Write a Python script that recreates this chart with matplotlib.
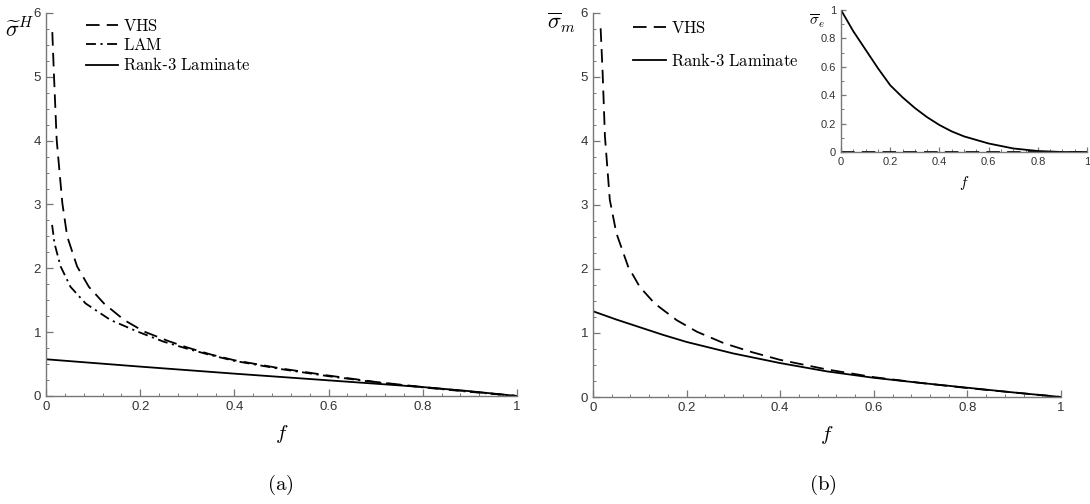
import matplotlib
matplotlib.use("Agg")
import matplotlib.pyplot as plt
from matplotlib.ticker import MultipleLocator

plt.rcParams['mathtext.fontset'] = 'cm'
plt.rcParams['font.family'] = 'Liberation Sans'

# panel (a)
f_vhs_a = [0.0134, 0.017, 0.0227, 0.0347, 0.045, 0.066, 0.091, 0.123, 0.166, 0.208,
           0.26, 0.3, 0.35, 0.4, 0.5, 0.6, 0.7, 0.8, 0.9, 1.0]
vhs_a = [5.70, 5.01, 4.01, 3.02, 2.5, 2.03, 1.71, 1.45, 1.19, 1.01,
         0.86, 0.76, 0.65, 0.56, 0.43, 0.32, 0.22, 0.14, 0.07, 0.0]
f_lam_a = [0.013, 0.018, 0.031, 0.052, 0.084, 0.137, 0.194, 0.25, 0.3, 0.35,
           0.4, 0.5, 0.6, 0.7, 0.8, 0.9, 1.0]
lam_a = [2.68, 2.39, 2.03, 1.71, 1.45, 1.19, 1.01, 0.85, 0.74, 0.64,
         0.55, 0.42, 0.31, 0.215, 0.135, 0.065, 0.0]
f_r3_a = [0.0, 0.2, 0.4, 0.6, 0.8, 0.9, 1.0]
r3_a = [0.575, 0.46, 0.35, 0.245, 0.14, 0.075, 0.0]

# panel (b)
f_vhs_b = [0.0164, 0.0207, 0.0256, 0.036, 0.05, 0.075, 0.1, 0.132, 0.179, 0.222,
           0.28, 0.34, 0.4, 0.5, 0.6, 0.7, 0.8, 0.9, 1.0]
vhs_b = [5.76, 5.06, 4.07, 3.08, 2.56, 2.04, 1.72, 1.46, 1.2, 1.02,
         0.84, 0.70, 0.58, 0.43, 0.31, 0.22, 0.14, 0.07, 0.0]
f_r3_b = [0.0, 0.05, 0.1, 0.15, 0.2, 0.3, 0.4, 0.5, 0.6, 0.7, 0.8, 0.9, 1.0]
r3_b = [1.34, 1.21, 1.09, 0.97, 0.86, 0.68, 0.53, 0.40, 0.30, 0.22, 0.145, 0.07, 0.0]

# inset of (b)
f_in_vhs = [0.0, 1.0]
in_vhs = [0.0, 0.0]
f_in_r3 = [0.0, 0.05, 0.1, 0.15, 0.2, 0.25, 0.3, 0.35, 0.4, 0.45, 0.5, 0.6,
           0.7, 0.8, 0.9, 1.0]
in_r3 = [1.0, 0.85, 0.72, 0.59, 0.47, 0.385, 0.31, 0.245, 0.19, 0.145, 0.11, 0.06,
         0.025, 0.007, 0.0, 0.0]

gray = '#777777'
lw = 1.3
vhs_dash = (7.5, 4)
lam_dash = (5.5, 2.5, 1.2, 2.5)


def style(ax, lab_size=9.5, ymin=0.25, xmin=0.04):
    for s in ['top', 'right']:
        ax.spines[s].set_visible(False)
    for s in ['left', 'bottom']:
        ax.spines[s].set_color(gray)
        ax.spines[s].set_linewidth(1.0)
    ax.tick_params(which='both', direction='in', color=gray, labelcolor='#333333',
                   labelsize=lab_size)
    ax.tick_params(which='major', length=5, width=0.9)
    ax.tick_params(which='minor', length=2.5, width=0.7)
    ax.xaxis.set_minor_locator(MultipleLocator(xmin))
    ax.yaxis.set_minor_locator(MultipleLocator(ymin))
    ax.xaxis.set_major_formatter(plt.FuncFormatter(lambda v, p: ('%g' % v)))
    ax.yaxis.set_major_formatter(plt.FuncFormatter(lambda v, p: ('%g' % v)))


fig = plt.figure(figsize=(10.9, 5.04), dpi=100)
ax1 = fig.add_axes([0.0422, 0.2143, 0.4321, 0.760])
ax2 = fig.add_axes([0.5440, 0.2123, 0.4294, 0.762])
ax3 = fig.add_axes([0.7716, 0.6984, 0.2257, 0.2817])

ax1.plot(f_vhs_a, vhs_a, color='k', lw=lw, dashes=vhs_dash, label=r'$\mathrm{VHS}$')
ax1.plot(f_lam_a, lam_a, color='k', lw=lw, dashes=lam_dash, label=r'$\mathrm{LAM}$')
ax1.plot(f_r3_a, r3_a, color='k', lw=lw, label=r'$\mathrm{Rank}$-$3\ \mathrm{Laminate}$')

ax2.plot(f_vhs_b, vhs_b, color='k', lw=lw, dashes=vhs_dash, label=r'$\mathrm{VHS}$')
ax2.plot(f_r3_b, r3_b, color='k', lw=lw, label=r'$\mathrm{Rank}$-$3\ \mathrm{Laminate}$')

ax3.plot(f_in_vhs, in_vhs, color='k', lw=lw, dashes=vhs_dash)
ax3.plot(f_in_r3, in_r3, color='k', lw=lw)

for ax in (ax1, ax2):
    ax.set_xlim(0, 1)
    ax.set_ylim(0, 6)
    ax.set_xticks([0, 0.2, 0.4, 0.6, 0.8, 1])
    ax.set_yticks(range(7))
    style(ax)
    ax.set_xlabel(r'$f$', fontsize=15, labelpad=7)

ax3.set_xlim(0, 1)
ax3.set_ylim(0, 1)
ax3.set_xticks([0, 0.2, 0.4, 0.6, 0.8, 1])
ax3.set_yticks([0, 0.2, 0.4, 0.6, 0.8, 1])
style(ax3, lab_size=8, ymin=0.1, xmin=0.05)
ax3.tick_params(which='major', length=3.5)
ax3.tick_params(which='minor', length=2)
ax3.set_xlabel(r'$f$', fontsize=11, labelpad=5)
ax3.patch.set_alpha(0)

fig.text(0.018, 0.94, r'$\widetilde{\sigma}^{H}$', fontsize=16, ha='center', va='center')
fig.text(0.515, 0.955, r'$\overline{\sigma}_{m}$', fontsize=16, ha='center', va='center')
fig.text(0.750, 0.958, r'$\overline{\sigma}_{e}$', fontsize=11, ha='center', va='center')

ax1.legend(loc='upper left', bbox_to_anchor=(0.0707, 1.005), frameon=False, fontsize=12,
           handlelength=1.95, handletextpad=0.25, labelspacing=0.2, borderaxespad=0)
ax2.legend(loc='upper left', bbox_to_anchor=(0.0716, 1.0), frameon=False, fontsize=12,
           handlelength=1.95, handletextpad=0.3, labelspacing=1.0, borderaxespad=0)

fig.text(0.257, 0.037, r'$\mathrm{(a)}$', fontsize=15, ha='center', va='center')
fig.text(0.755, 0.037, r'$\mathrm{(b)}$', fontsize=15, ha='center', va='center')

fig.savefig('out.png', dpi=100)
